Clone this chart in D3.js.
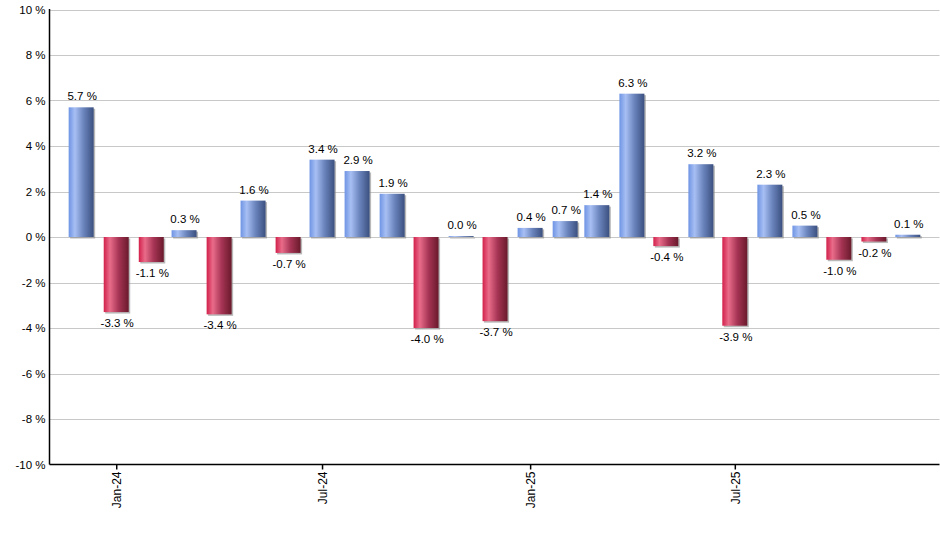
<!DOCTYPE html>
<html><head><meta charset="utf-8">
<script src="https://cdn.jsdelivr.net/npm/d3@7"></script>
<style>
body{margin:0;background:#fff}
text{font-family:"Liberation Sans",Arial,sans-serif;fill:#000}
</style>
</head><body>
<svg id="c" width="940" height="550"></svg>
<script>
// Data
const months = ["2023-12","2024-01","2024-02","2024-03","2024-04","2024-05","2024-06","2024-07","2024-08","2024-09","2024-10","2024-11","2024-12","2025-01","2025-02","2025-03","2025-04","2025-05","2025-06","2025-07","2025-08","2025-09","2025-10","2025-11","2025-12"];
const values = [5.7,-3.3,-1.1,0.3,-3.4,1.6,-0.7,3.4,2.9,1.9,-4.0,0.04,-3.7,0.4,0.7,1.4,6.3,-0.4,3.2,-3.9,2.3,0.5,-1.0,-0.2,0.1];
const yTickValues = [-10,-8,-6,-4,-2,0,2,4,6,8,10];
const xTickMonths = ["2024-01","2024-07","2025-01","2025-07"];
const xTickLabels = ["Jan-24","Jul-24","Jan-25","Jul-25"];

const parseM = s => { const [yy,mm] = s.split("-").map(Number); return new Date(Date.UTC(yy, mm-1, 1)); };
const data = months.map((m,i) => ({date: parseM(m), value: values[i]}));

const svg = d3.select("#c");
const pLeft = 49.5, pRight = 939.5, pTop = 9.5, pBottom = 464.5;

const x = d3.scaleUtc()
  .domain([new Date(Date.UTC(2023,10,3)), new Date(Date.UTC(2025,11,29))])
  .range([pLeft, pRight]);
const y = d3.scaleLinear().domain([-10, 10]).range([pBottom, pTop]);

// gradients
const defs = svg.append("defs");
function grad(id, stops){
  const g = defs.append("linearGradient").attr("id", id).attr("x1",0).attr("x2",1).attr("y1",0).attr("y2",0);
  stops.forEach(([o,c]) => g.append("stop").attr("offset", o).attr("stop-color", c));
}
grad("gBlue", [[0,"#6f94e4"],[0.25,"#a7bff3"],[0.6,"#6a84bc"],[1,"#3b5080"]]);
grad("gRed", [[0,"#d2204a"],[0.25,"#e96c8a"],[0.6,"#a63454"],[1,"#6a1a2c"]]);

// gridlines
svg.append("g").selectAll("line").data(yTickValues.filter(v => v !== -10)).join("line")
  .attr("x1", pLeft).attr("x2", pRight)
  .attr("y1", d => Math.round(y(d)) + 0.5).attr("y2", d => Math.round(y(d)) + 0.5)
  .attr("stroke", "#c8c8c8").attr("stroke-width", 1);

// y axis labels
const yAxis = d3.axisLeft(y).tickValues(yTickValues).tickSize(0).tickPadding(4).tickFormat(d => d + " %");
const gy = svg.append("g").attr("transform", `translate(${pLeft},0)`).call(yAxis);
gy.select(".domain").remove();
gy.selectAll("text").style("font-size", "11.5px").style("font-family", '"Liberation Sans",Arial,sans-serif').attr("fill", "#000");

// bars
const bw = 25;
const bars = svg.append("g");
bars.selectAll("rect.sh").data(data).join("rect").attr("class","sh")
  .attr("x", d => x(d.date) - bw/2 + 1.5)
  .attr("y", d => Math.min(y(d.value), y(0)) + 1.5)
  .attr("width", bw)
  .attr("height", d => Math.abs(y(d.value) - y(0)))
  .attr("fill", "#8a8a8a").attr("opacity", 0.6);
bars.selectAll("rect.b").data(data).join("rect").attr("class","b")
  .attr("x", d => x(d.date) - bw/2)
  .attr("y", d => Math.min(y(d.value), y(0)))
  .attr("width", bw)
  .attr("height", d => Math.abs(y(d.value) - y(0)))
  .attr("fill", d => d.value >= 0 ? "url(#gBlue)" : "url(#gRed)");

// value labels
svg.append("g").selectAll("text").data(data).join("text")
  .attr("x", d => x(d.date) + 1)
  .attr("y", d => d.value >= 0 ? y(d.value) - 7 : y(d.value) + 15)
  .attr("text-anchor", "middle")
  .style("font-size", "11.5px")
  .text(d => d.value.toFixed(1) + " %");

// axes lines
svg.append("line").attr("x1", pLeft).attr("x2", pLeft).attr("y1", pTop - 0.5).attr("y2", pBottom)
  .attr("stroke", "#000").attr("stroke-width", 1.5);

const xAxis = d3.axisBottom(x).tickValues(xTickMonths.map(parseM)).tickSize(5).tickPadding(5)
  .tickFormat((d,i) => xTickLabels[i]);
const gx = svg.append("g").attr("transform", `translate(0,${pBottom})`).call(xAxis);
gx.select(".domain").attr("stroke", "#000").attr("stroke-width", 1.5).attr("d", `M${pLeft},0H${pRight}`);
gx.selectAll(".tick line").attr("stroke", "#000").attr("stroke-width", 1.5);
gx.selectAll("text")
  .style("font-size", "12px").style("font-family", '"Liberation Sans",Arial,sans-serif').attr("fill", "#000")
  .attr("text-anchor", "end")
  .attr("transform", "rotate(-90)")
  .attr("x", -7).attr("y", 0).attr("dy", "0.35em");
</script>
</body></html>
